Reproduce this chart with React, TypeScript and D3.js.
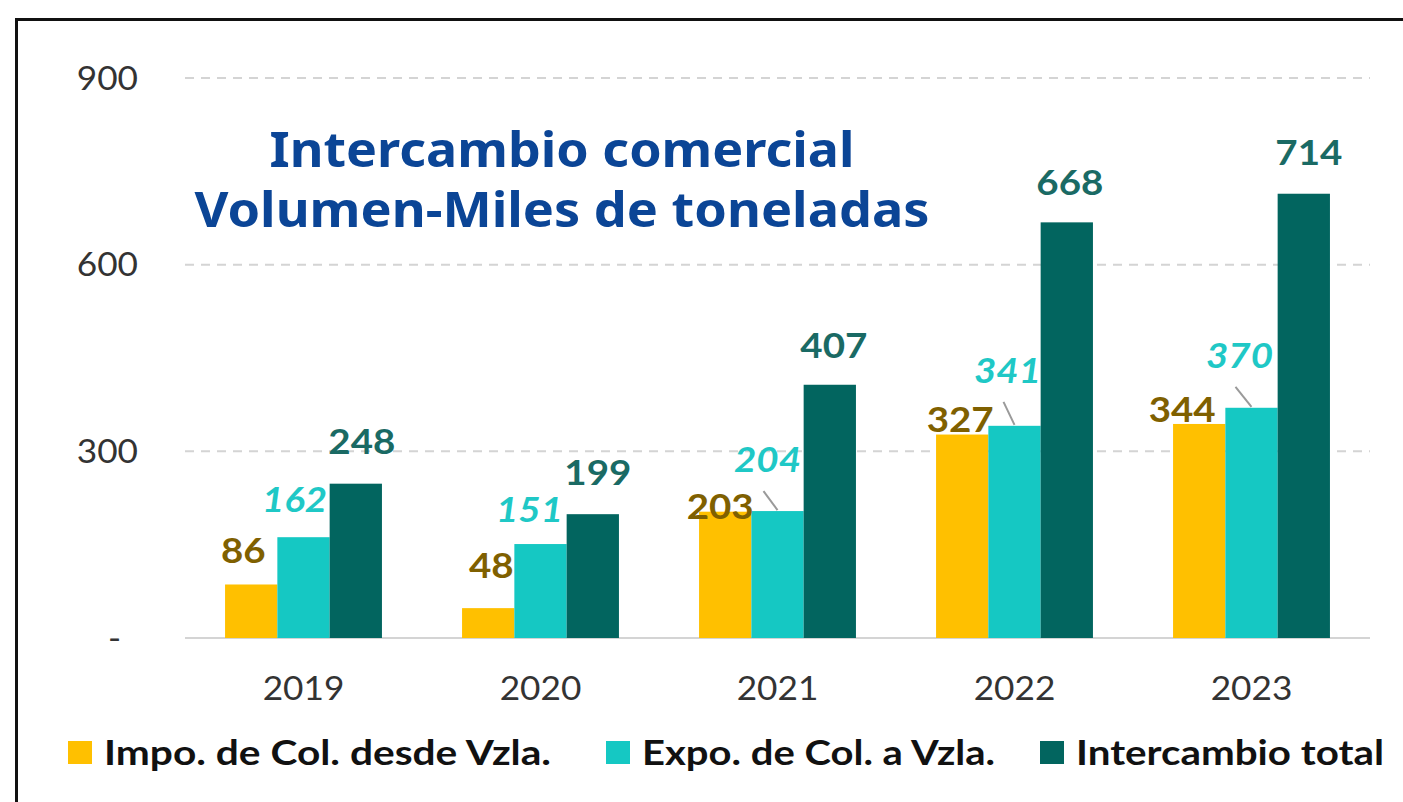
import React from "react";
import * as d3 from "d3";

// values (miles de toneladas)
const years = ["2019", "2020", "2021", "2022", "2023"];
const impo = [86, 48, 203, 327, 344];
const expo = [162, 151, 204, 341, 370];
const total = [248, 199, 407, 668, 714];
const yTicks = [0, 300, 600, 900];
const seriesNames = ["Impo. de Col. desde Vzla.", "Expo. de Col. a Vzla.", "Intercambio total"];
const titleLines = ["Intercambio comercial", "Volumen-Miles de toneladas"];

const W = 1403;
const H = 802;
const barColors = ["#ffc000", "#15c8c3", "#02655f"];
const labelColors = ["#7f6000", "#1fc8c6", "#1a6a64"];

// manual nudges of the data labels, [dx, dy] from bar centre / bar top
const labelNudge = [
  [[-8, -21], [3, -30], [-5, 7], [-2, -3], [-17, -2]],
  [[-9, -25], [-11, -22], [-10, -39], [-7, -43], [-12, -40]],
  [[6, -30], [5, -29], [4, -27], [3, -27], [5, -29]],
];
// leader lines for the cyan labels that sit away from their bar
const leaderYears = ["2021", "2022", "2023"];

// the source image is a bit stretched sideways
const SX = 1.1;

const App = () => {
  const series = [impo, expo, total];
  const x = d3.scaleBand().domain(years).range([185, 1370]).paddingInner(0.338).paddingOuter(0.169);
  const xs = d3.scaleBand().domain(["0", "1", "2"]).range([0, x.bandwidth()]);
  const y = d3.scaleLinear().domain([0, 900]).range([638, 78]);
  const font = "Lato, 'Noto Sans', sans-serif";

  const legendX = [68, 606, 1040];
  const legendLen = [447, 353, 308];
  const titleLen = [585, 735];

  return (
    <svg width={W} height={H} style={{ position: "absolute", left: 0, top: 0, background: "#fff" }}>
      <rect x={0} y={0} width={W} height={H} fill="#fff" />
      {/* frame */}
      <rect x={16.5} y={19.5} width={W + 50} height={H + 50} fill="none" stroke="#111" strokeWidth={3} />

      {/* grid */}
      {yTicks.map((t) => (
        <line
          key={t}
          x1={185}
          x2={1370}
          y1={y(t)}
          y2={y(t)}
          stroke="#d4d4d4"
          strokeWidth={2}
          strokeDasharray={t === 0 ? null : "9,7"}
        />
      ))}
      {yTicks.map((t) => (
        <g key={"yt" + t} transform={`translate(${t === 0 ? 121 : 138},${y(t)}) scale(${SX},1)`}>
          <text dy="0.36em" textAnchor="end" fontFamily={font} fontSize={32} fill="#333">
            {t === 0 ? "-" : d3.format("d")(t)}
          </text>
        </g>
      ))}

      {/* bars */}
      {years.map((yr, i) => (
        <g key={yr} transform={`translate(${x(yr)},0)`}>
          {series.map((s, k) => (
            <rect
              key={k}
              x={xs(String(k))}
              y={y(s[i])}
              width={xs.bandwidth()}
              height={y(0) - y(s[i])}
              fill={barColors[k]}
            />
          ))}
        </g>
      ))}

      {/* leader lines */}
      {leaderYears.map((yr) => {
        const i = years.indexOf(yr);
        const cx = x(yr) + xs("1") + xs.bandwidth() / 2;
        const top = y(expo[i]);
        const [dx, dy] = labelNudge[1][i];
        return (
          <line
            key={"ld" + yr}
            x1={cx + dx - 4}
            y1={top + dy + 19}
            x2={cx}
            y2={top - 1}
            stroke="#9a9a9a"
            strokeWidth={2}
          />
        );
      })}

      {/* data labels */}
      {years.map((yr, i) =>
        series.map((s, k) => {
          const cx = x(yr) + xs(String(k)) + xs.bandwidth() / 2;
          const [dx, dy] = labelNudge[k][i];
          return (
            <g key={yr + k} transform={`translate(${cx + dx},${y(s[i]) + dy}) scale(${SX},1)`}>
              <text
                textAnchor="middle"
                fontFamily={font}
                fontSize={35}
                fontWeight="bold"
                fontStyle={k === 1 ? "italic" : "normal"}
                fill={labelColors[k]}
              >
                {s[i]}
              </text>
            </g>
          );
        })
      )}

      {/* x axis labels */}
      {years.map((yr) => (
        <g key={"xl" + yr} transform={`translate(${x(yr) + x.bandwidth() / 2},700) scale(${SX},1)`}>
          <text textAnchor="middle" fontFamily={font} fontSize={32} fill="#333">
            {yr}
          </text>
        </g>
      ))}

      {/* title */}
      {titleLines.map((line, j) => (
        <text
          key={line}
          x={562 - titleLen[j] / 2}
          y={167 + j * 60}
          textLength={titleLen[j]}
          lengthAdjust="spacingAndGlyphs"
          fontFamily="'Noto Sans', 'Open Sans', sans-serif"
          fontSize={49}
          fontWeight="bold"
          fill="#0b4596"
        >
          {line}
        </text>
      ))}

      {/* legend */}
      {seriesNames.map((n, k) => (
        <g key={n} transform={`translate(${legendX[k]},0)`}>
          <rect x={0} y={741} width={24} height={23} fill={barColors[k]} />
          <text
            x={36}
            y={765}
            textLength={legendLen[k]}
            lengthAdjust="spacingAndGlyphs"
            fontFamily={font}
            fontSize={34}
            fontWeight="bold"
            fill="#111"
          >
            {n}
          </text>
        </g>
      ))}
    </svg>
  );
};

export default App;
